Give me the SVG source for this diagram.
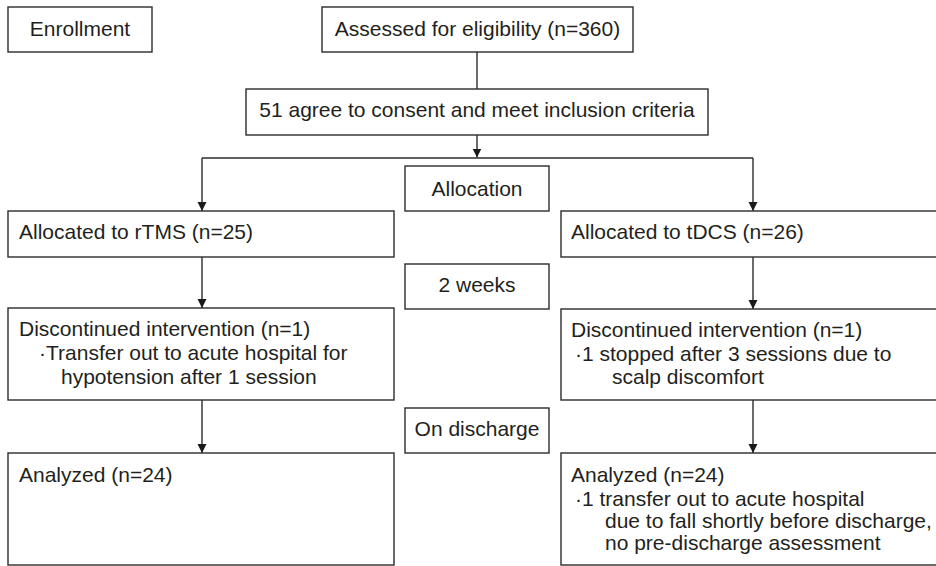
<svg xmlns="http://www.w3.org/2000/svg" width="936" height="566" viewBox="0 0 936 566">
<defs>
<style>
.box{fill:#fff;stroke:#2b2b2b;stroke-width:1.4}
.t{font-family:"Liberation Sans",Arial,sans-serif;font-size:21px;fill:#231f20}
.c{text-anchor:middle}
.ln{fill:none;stroke:#2b2b2b;stroke-width:1.4}
</style>
<marker id="ah" markerUnits="userSpaceOnUse" markerWidth="10" markerHeight="10" refX="9" refY="5" orient="auto">
<path d="M0,0.5 L9,5 L0,9.5 Z" fill="#1a1a1a"/>
</marker>
</defs>
<rect width="936" height="566" fill="#fff"/>
<g id="connectors">
<path class="ln" d="M477,52 V89"/>
<path class="ln" d="M477,135 V157.5" marker-end="url(#ah)"/>
<path class="ln" d="M202,158 H753"/>
<path class="ln" d="M202,158 V211" marker-end="url(#ah)"/>
<path class="ln" d="M753,158 V211" marker-end="url(#ah)"/>
<path class="ln" d="M202,257 V308" marker-end="url(#ah)"/>
<path class="ln" d="M753,257 V309" marker-end="url(#ah)"/>
<path class="ln" d="M202,400 V453" marker-end="url(#ah)"/>
<path class="ln" d="M753,400 V453" marker-end="url(#ah)"/>
</g>
<g id="enrollment">
<rect class="box" x="8" y="7" width="144" height="45"/>
<text class="t c" x="80" y="36">Enrollment</text>
</g>
<g id="assessed">
<rect class="box" x="322" y="7" width="311" height="45"/>
<text class="t c" x="477.5" y="36">Assessed for eligibility (n=360)</text>
</g>
<g id="consent">
<rect class="box" x="246" y="89" width="462" height="46"/>
<text class="t c" x="477" y="117">51 agree to consent and meet inclusion criteria</text>
</g>
<g id="allocation">
<rect class="box" x="405" y="166" width="144" height="45"/>
<text class="t c" x="477" y="196">Allocation</text>
</g>
<g id="rtms">
<rect class="box" x="8" y="211" width="386" height="46"/>
<text class="t" x="19" y="239">Allocated to rTMS (n=25)</text>
</g>
<g id="tdcs">
<rect class="box" x="561" y="211" width="380" height="46"/>
<text class="t" x="571" y="239">Allocated to tDCS (n=26)</text>
</g>
<g id="weeks">
<rect class="box" x="405" y="264" width="144" height="45"/>
<text class="t c" x="477" y="292">2 weeks</text>
</g>
<g id="disc-rtms">
<rect class="box" x="8" y="308" width="386" height="92"/>
<text class="t" x="19" y="336">Discontinued intervention (n=1)</text>
<text class="t" x="39" y="360">·Transfer out to acute hospital for</text>
<text class="t" x="61" y="384">hypotension after 1 session</text>
</g>
<g id="disc-tdcs">
<rect class="box" x="561" y="309" width="380" height="91"/>
<text class="t" x="571" y="337">Discontinued intervention (n=1)</text>
<text class="t" x="575" y="361">·1 stopped after 3 sessions due to</text>
<text class="t" x="612" y="384">scalp discomfort</text>
</g>
<g id="discharge">
<rect class="box" x="405" y="408" width="144" height="45"/>
<text class="t c" x="477" y="436">On discharge</text>
</g>
<g id="analyzed-rtms">
<rect class="box" x="8" y="453" width="386" height="112"/>
<text class="t" x="19" y="482">Analyzed (n=24)</text>
</g>
<g id="analyzed-tdcs">
<rect class="box" x="561" y="453" width="380" height="112"/>
<text class="t" x="571" y="482">Analyzed (n=24)</text>
<text class="t" x="575" y="506">·1 transfer out to acute hospital</text>
<text class="t" x="605" y="528">due to fall shortly before discharge,</text>
<text class="t" x="605" y="550">no pre-discharge assessment</text>
</g>
</svg>
